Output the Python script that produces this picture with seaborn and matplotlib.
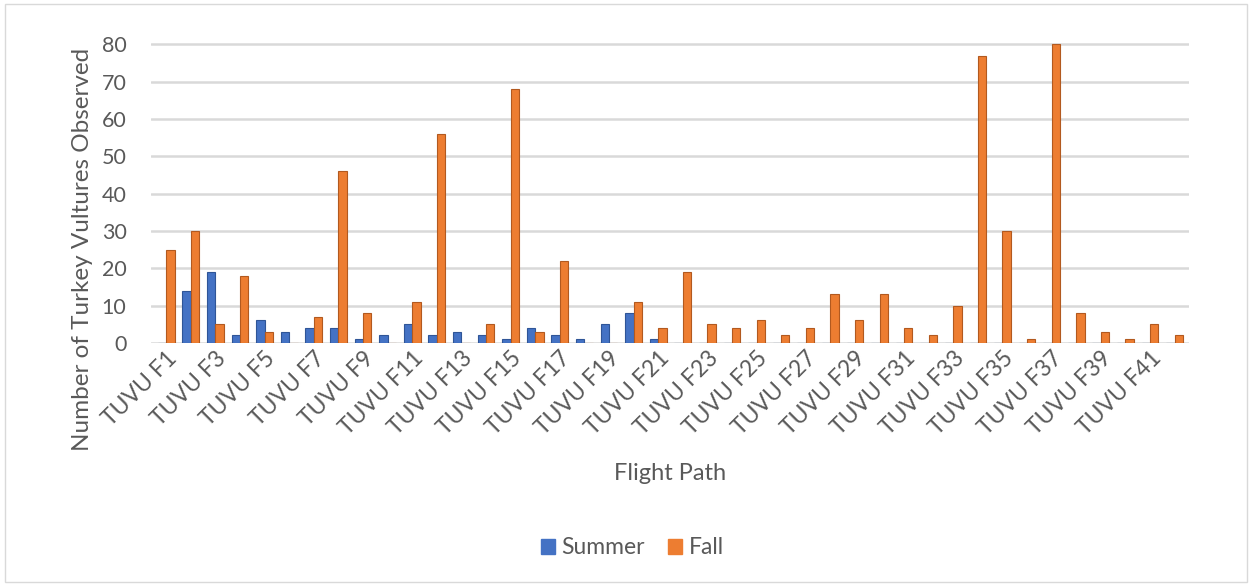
import matplotlib
matplotlib.use("Agg")
import matplotlib.pyplot as plt
import numpy as np
import pandas as pd
import seaborn as sns
from matplotlib.patches import Rectangle

# flight paths F1..F42
paths = ["TUVU F" + str(i) for i in range(1, 43)]
summer = [0, 14, 19, 2, 6, 3, 4, 4, 1, 2, 5, 2, 3, 2, 1, 4, 2, 1, 5, 8, 1,
          0, 0, 0, 0, 0, 0, 0, 0, 0, 0, 0, 0, 0, 0, 0, 0, 0, 0, 0, 0, 0]
fall = [25, 30, 5, 18, 3, 0, 7, 46, 8, 0, 11, 56, 0, 5, 68, 3, 22, 0, 0, 11, 4,
        19, 5, 4, 6, 2, 4, 13, 6, 13, 4, 2, 10, 77, 30, 1, 80, 8, 3, 1, 5, 2]
seasons = ["Summer", "Fall"]
colours = {"Summer": "#4472C4", "Fall": "#ED7D31"}
edges = {"Summer": "#2F5597", "Fall": "#B2591F"}

df = pd.DataFrame({"Flight Path": paths * 2,
                   "Count": summer + fall,
                   "Season": ["Summer"] * len(paths) + ["Fall"] * len(paths)})

sns.set_style("white")
plt.rcParams["font.family"] = ["Lato", "DejaVu Sans"]
grey = "#595959"

fig = plt.figure(figsize=(12.52, 5.86), dpi=100)
ax = fig.add_axes([0.121, 0.415, 0.829, 0.513])

sns.barplot(data=df, x="Flight Path", y="Count", hue="Season", hue_order=seasons,
            palette=colours, saturation=1, width=0.68, ax=ax, legend=True)
# darker edge to hint the 3-D side of the original bars
for cont, s in zip(ax.containers, seasons):
    for bar in cont:
        bar.set_edgecolor(edges[s])
        bar.set_linewidth(0.8)

ax.set_ylim(0, 80.6)
ax.set_xlim(-0.6, len(paths) - 0.4)
ax.set_yticks(range(0, 81, 10))
ax.yaxis.grid(True, color="#d9d9d9", linewidth=1.8)
ax.set_axisbelow(True)
sns.despine(ax=ax, left=True, bottom=True)
ax.tick_params(axis="both", length=0, colors=grey)
ax.tick_params(axis="y", pad=18, labelsize=15.5)

ax.set_xticks(range(0, len(paths), 2))
ax.set_xticklabels(paths[::2], rotation=45, ha="right", rotation_mode="anchor", fontsize=16.5)

ax.set_xlabel("Flight Path", fontsize=17, color=grey, va="center")
ax.xaxis.set_label_coords(0.5, -0.435)
ax.set_ylabel("Number of Turkey Vultures Observed", fontsize=17.5, color=grey, va="center")
ax.yaxis.set_label_coords(-0.066, 0.31)

ax.get_legend().remove()
handles = [Rectangle((0, 0), 1, 1, color=colours[s]) for s in seasons]
leg = fig.legend(handles, seasons, loc="center", bbox_to_anchor=(0.505, 0.065), ncol=2,
                 frameon=False, fontsize=16.5, handlelength=0.6, handleheight=0.6,
                 columnspacing=1.0, handletextpad=0.3)
for t in leg.get_texts():
    t.set_color(grey)

fig.patches.append(Rectangle((0.004, 0.006), 0.992, 0.988, transform=fig.transFigure,
                             fill=False, edgecolor="#d9d9d9", linewidth=1))

fig.savefig("out.png", dpi=100, facecolor="white")
